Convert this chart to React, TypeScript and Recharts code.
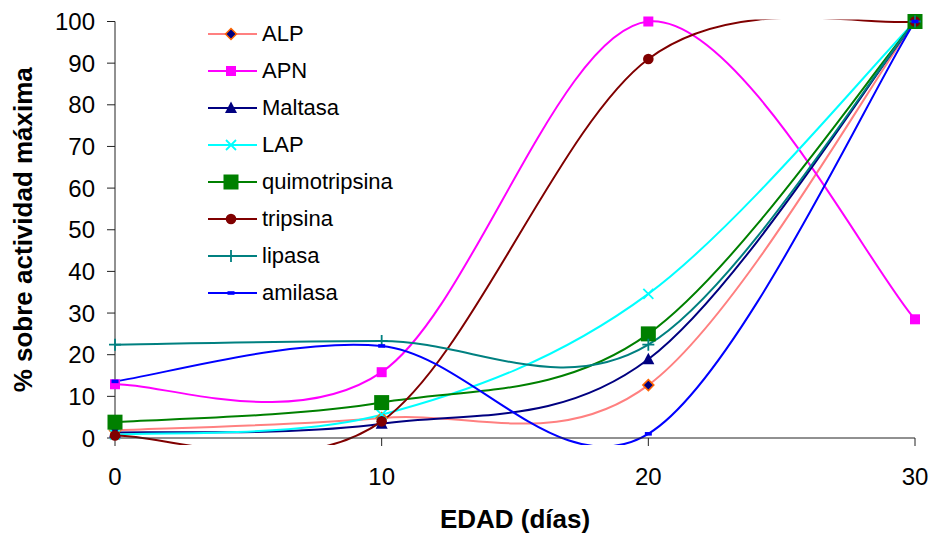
import React from 'react';
import { LineChart, Line, XAxis, YAxis, Legend } from 'recharts';

// días de edad
const days = [0, 10, 20, 30];

// % sobre actividad máxima
const alp = [1.8, 4.8, 12.7, 100];
const apn = [12.9, 15.8, 100, 28.5];
const maltasa = [1.3, 3.4, 18.9, 100];
const lap = [0.8, 5.6, 34.6, 100];
const quimotripsina = [3.8, 8.5, 25.0, 100];
const tripsina = [0.6, 4.0, 91.0, 100];
const lipasa = [22.4, 23.3, 22.4, 100];
const amilasa = [13.6, 22.1, 1.0, 100];

const xTicks = [0, 10, 20, 30];
const yTicks = [0, 10, 20, 30, 40, 50, 60, 70, 80, 90, 100];

const series = [
  { key: 'alp', name: 'ALP', values: alp },
  { key: 'apn', name: 'APN', values: apn },
  { key: 'maltasa', name: 'Maltasa', values: maltasa },
  { key: 'lap', name: 'LAP', values: lap },
  { key: 'quimo', name: 'quimotripsina', values: quimotripsina },
  { key: 'tripsina', name: 'tripsina', values: tripsina },
  { key: 'lipasa', name: 'lipasa', values: lipasa },
  { key: 'amilasa', name: 'amilasa', values: amilasa },
];

const looks: Record<string, { color: string; marker: string }> = {
  alp: { color: '#ff8080', marker: 'diamond' },
  apn: { color: '#ff00ff', marker: 'square' },
  maltasa: { color: '#000080', marker: 'triangle' },
  lap: { color: '#00ffff', marker: 'cross' },
  quimo: { color: '#008000', marker: 'bigSquare' },
  tripsina: { color: '#800000', marker: 'circle' },
  lipasa: { color: '#008080', marker: 'plus' },
  amilasa: { color: '#0000ff', marker: 'dash' },
};

const rows = days.map((d, i) => {
  const row: Record<string, number> = { day: d };
  series.forEach(s => { row[s.key] = s.values[i]; });
  return row;
});

const FONT = '"Liberation Sans", Arial, sans-serif';

// suavizado tipo Excel: bezier Catmull-Rom (tangente = (P2 - P0) / 6)
const excelSmooth = (context: any) => {
  let pts: number[][] = [];
  return {
    areaStart() {},
    areaEnd() {},
    lineStart() { pts = []; },
    point(x: number, y: number) { pts.push([+x, +y]); },
    lineEnd() {
      const n = pts.length;
      if (!n) return;
      context.moveTo(pts[0][0], pts[0][1]);
      for (let i = 0; i < n - 1; i++) {
        const p1 = pts[i], p2 = pts[i + 1];
        const p0 = pts[i - 1] || p1;
        const p3 = pts[i + 2] || p2;
        const c1 = [p1[0] + (p2[0] - p0[0]) / 6, p1[1] + (p2[1] - p0[1]) / 6];
        const c2 = [p2[0] - (p3[0] - p1[0]) / 6, p2[1] - (p3[1] - p1[1]) / 6];
        context.bezierCurveTo(c1[0], c1[1], c2[0], c2[1], p2[0], p2[1]);
      }
    },
  };
};

const Marker = ({ shape, cx, cy, color }: { shape: string; cx: number; cy: number; color: string }) => {
  switch (shape) {
    case 'diamond':
      return <path d={`M${cx},${cy - 5.5}L${cx + 5.5},${cy}L${cx},${cy + 5.5}L${cx - 5.5},${cy}Z`} fill="#000080" stroke="#ff6600" strokeWidth={1.5} />;
    case 'square':
      return <rect x={cx - 5} y={cy - 5} width={10} height={10} fill={color} />;
    case 'bigSquare':
      return <rect x={cx - 7.5} y={cy - 7.5} width={15} height={15} fill={color} />;
    case 'triangle':
      return <path d={`M${cx},${cy - 6.5}L${cx + 6},${cy + 5}L${cx - 6},${cy + 5}Z`} fill={color} />;
    case 'cross':
      return <path d={`M${cx - 5},${cy - 5}L${cx + 5},${cy + 5}M${cx - 5},${cy + 5}L${cx + 5},${cy - 5}`} stroke={color} strokeWidth={1.8} />;
    case 'circle':
      return <circle cx={cx} cy={cy} r={5.3} fill={color} />;
    case 'plus':
      return <path d={`M${cx - 6},${cy}L${cx + 6},${cy}M${cx},${cy - 6}L${cx},${cy + 6}`} stroke={color} strokeWidth={1.8} />;
    case 'dash':
      return <rect x={cx - 3.5} y={cy - 1.8} width={7} height={3.6} fill={color} />;
    default:
      return null;
  }
};

// leyenda en el orden de las series (no alfabético)
const LegendBox = ({ payload }: any) => {
  const names = new Set((payload || []).map((e: any) => e.value));
  return (
    <div style={{ fontFamily: FONT, fontSize: 22, color: '#000' }}>
      {series.filter(s => names.has(s.name)).map(s => {
        const look = looks[s.key];
        return (
          <div key={s.key} style={{ display: 'flex', alignItems: 'center', height: 37 }}>
            <svg width={54} height={20} style={{ overflow: 'visible' }}>
              <line x1={0} y1={10} x2={49} y2={10} stroke={look.color} strokeWidth={2} />
              <Marker shape={look.marker} cx={23} cy={10} color={look.color} />
            </svg>
            <span style={{ lineHeight: '22px' }}>{s.name}</span>
          </div>
        );
      })}
    </div>
  );
};

const YTitle = ({ viewBox }: any) => {
  const cx = viewBox.x + 8;
  const cy = viewBox.y + viewBox.height / 2;
  return (
    <text x={cx} y={cy} transform={`rotate(-90 ${cx} ${cy})`} textAnchor="middle" dominantBaseline="central"
      fontFamily={FONT} fontWeight="bold" fontSize={26} fill="#000">
      % sobre actividad máxima
    </text>
  );
};

const XTitle = ({ viewBox }: any) => (
  <text x={viewBox.x + viewBox.width / 2} y={viewBox.y + 90} textAnchor="middle"
    fontFamily={FONT} fontWeight="bold" fontSize={26} fill="#000">
    EDAD (días)
  </text>
);

export default function App() {
  return (
    <div style={{ position: 'absolute', left: 0, top: 0, width: 931, height: 537, background: '#fff' }}>
      <style>{`.smooth-line .recharts-line-curve { clip-path: url(#plotClip); }`}</style>
      <svg width={0} height={0} style={{ position: 'absolute' }}>
        <defs>
          <clipPath id="plotClip" clipPathUnits="userSpaceOnUse">
            <rect x={0} y={19.5} width={931} height={425.5} />
          </clipPath>
        </defs>
      </svg>
      <LineChart width={931} height={537} data={rows} margin={{ top: 21.5, right: 16, bottom: 0, left: 15 }}>
        <XAxis
          dataKey="day"
          type="number"
          domain={[0, 30]}
          ticks={xTicks}
          interval={0}
          height={99}
          tickSize={8}
          tickMargin={22}
          stroke="#222"
          tick={{ fontSize: 24, fill: '#000', fontFamily: FONT }}
          label={<XTitle />}
        />
        <YAxis
          type="number"
          domain={[0, 100]}
          ticks={yTicks}
          interval={0}
          width={100}
          tickSize={8}
          tickMargin={12}
          stroke="#222"
          tick={{ fontSize: 24, fill: '#000', fontFamily: FONT }}
          label={<YTitle />}
        />
        <Legend
          layout="vertical"
          align="center"
          verticalAlign="middle"
          wrapperStyle={{ left: 208, top: 15, width: 220 }}
          content={<LegendBox />}
        />
        {series.map(s => (
          <Line
            key={s.key}
            className="smooth-line"
            dataKey={s.key}
            name={s.name}
            type={excelSmooth as any}
            stroke={looks[s.key].color}
            strokeWidth={2}
            isAnimationActive={false}
            activeDot={false}
            dot={(p: any) => (
              <Marker key={`${s.key}-${p.index}`} shape={looks[s.key].marker} cx={p.cx} cy={p.cy} color={looks[s.key].color} />
            )}
          />
        ))}
      </LineChart>
    </div>
  );
}
